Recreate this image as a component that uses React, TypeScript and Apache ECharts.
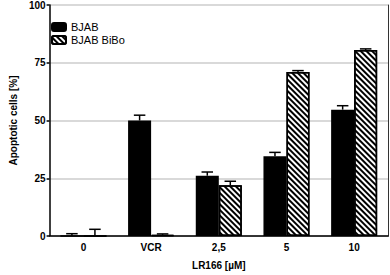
import React, { useEffect, useRef } from "react";
import * as echarts from "echarts";

const categories = ["0", "VCR", "2,5", "5", "10"];
const bjab = [0, 50, 26.1, 34.5, 54.7];
const bjabErr = [1, 52.3, 27.7, 36.2, 56.4];
const bibo = [0, 0.5, 22, 71, 80.5];
const biboErr = [2.9, 0.9, 23.7, 71.6, 81];
const yTicks = [0, 25, 50, 75, 100];

const GAP = 0.32;
const FONT = "Liberation Sans, Arial, sans-serif";

function errSeries(name: string, vals: number[], tops: number[], side: number) {
  return {
    type: "custom",
    name: name + " err",
    z: 1,
    silent: true,
    data: vals.map((v, i) => [i, v, tops[i]]),
    encode: { x: 0, y: [1, 2] },
    renderItem: (params: any, api: any) => {
      const i = api.value(0);
      const bw = api.size([1, 0])[0];
      const barW = (bw * (1 - GAP)) / 2;
      const c = api.coord([i, api.value(1)]);
      const t = api.coord([i, api.value(2)]);
      const x = c[0] + (side * barW) / 2;
      const cap = barW / 4;
      return {
        type: "group",
        children: [
          { type: "line", shape: { x1: x, y1: c[1], x2: x, y2: t[1] }, style: { stroke: "#000", lineWidth: 1.5 } },
          { type: "line", shape: { x1: x - cap, y1: t[1], x2: x + cap, y2: t[1] }, style: { stroke: "#000", lineWidth: 1.5 } },
        ],
      };
    },
  };
}

export default function App() {
  const ref = useRef<HTMLDivElement>(null);
  useEffect(() => {
    const chart = echarts.init(ref.current!, null, { renderer: "svg" });
    const decal = {
      symbol: "rect",
      color: "#000",
      dashArrayX: [1, 0],
      dashArrayY: [1.6, 1.6],
      rotation: Math.PI / 4,
    };
    chart.setOption({
      animation: false,
      textStyle: { fontFamily: FONT },
      grid: { left: 33, right: 2, top: 5, bottom: 34.5 },
      legend: {
        left: 46,
        top: 15.5,
        orient: "vertical",
        itemWidth: 14,
        itemHeight: 8,
        itemGap: 0,
        textStyle: { fontSize: 11, color: "#000", fontFamily: FONT, lineHeight: 13 },
        data: ["BJAB", "BJAB BiBo"],
      },
      xAxis: [
        {
          type: "category",
          data: categories,
          axisLine: { lineStyle: { color: "#000", width: 1.5 } },
          axisTick: { alignWithLabel: true, length: 3, lineStyle: { color: "#000", width: 1.5 } },
          axisLabel: { fontWeight: "bold", fontSize: 10, color: "#000", margin: 6, fontFamily: FONT },
          name: "LR166 [µM]",
          nameLocation: "middle",
          nameGap: 24,
          nameTextStyle: { fontWeight: "bold", fontSize: 10, color: "#000", fontFamily: FONT },
        },
        {
          type: "category",
          data: categories,
          position: "top",
          axisLine: { lineStyle: { color: "#333", width: 1 } },
          axisTick: { show: false },
          axisLabel: { show: false },
        },
      ],
      yAxis: [
        {
          type: "value",
          min: 0,
          max: 100,
          interval: 25,
          axisLine: { show: true, lineStyle: { color: "#000", width: 1.5 } },
          axisTick: { show: true, length: 3, lineStyle: { color: "#000", width: 1.5 } },
          axisLabel: {
            fontWeight: "bold",
            fontSize: 10,
            color: "#000",
            margin: 4,
            fontFamily: FONT,
            formatter: (v: number) => (yTicks.includes(v) ? String(v) : ""),
          },
          splitLine: { show: true, lineStyle: { color: "#ccc", width: 1.5 } },
          name: "Apoptotic cells [%]",
          nameLocation: "middle",
          nameGap: 22,
          nameTextStyle: { fontWeight: "bold", fontSize: 10, color: "#000", fontFamily: FONT },
        },
        {
          type: "value",
          min: 0,
          max: 100,
          position: "right",
          axisLine: { show: true, lineStyle: { color: "#333", width: 1 } },
          axisTick: { show: false },
          axisLabel: { show: false },
          splitLine: { show: false },
        },
      ],
      series: [
        {
          type: "bar",
          name: "BJAB",
          data: bjab,
          barGap: "0%",
          barCategoryGap: "32%",
          z: 2,
          itemStyle: { color: "#000", borderColor: "#000", borderWidth: 1.5 },
        },
        {
          type: "bar",
          name: "BJAB BiBo",
          data: bibo,
          barGap: "0%",
          barCategoryGap: "32%",
          z: 2,
          itemStyle: { color: "#fff", borderColor: "#000", borderWidth: 1.5, decal },
        },
        errSeries("BJAB", bjab, bjabErr, -1),
        errSeries("BJAB BiBo", bibo, biboErr, 1),
      ],
    });
    return () => chart.dispose();
  }, []);
  return <div ref={ref} style={{ width: 390, height: 275, position: "absolute", left: 0, top: 0 }} />;
}
